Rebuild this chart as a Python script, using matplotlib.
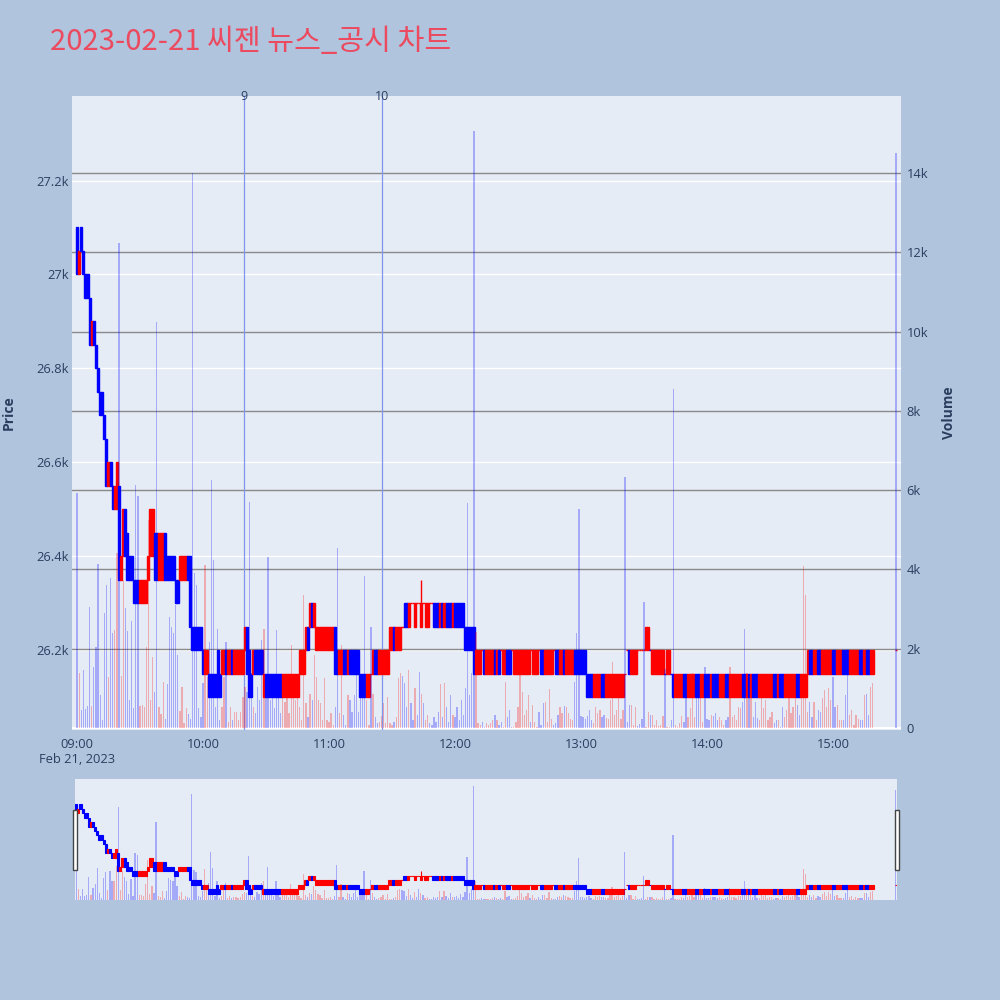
import matplotlib
matplotlib.use('Agg')
import matplotlib.pyplot as plt
import matplotlib.transforms as mtransforms
from matplotlib.patches import Rectangle

plt.rcParams['font.family'] = ['Open Sans', 'Noto Sans CJK KR', 'DejaVu Sans']

title = '2023-02-21 씨젠 뉴스_공시 차트'

# minutes after 09:00 (one candle per minute 09:00-15:19, then the 15:30 close)
minutes = list(range(0, 380)) + [390]

opens = [
    27100, 27000, 27100, 27050, 27000, 27000, 26950, 26850, 26900, 26850,
    26800, 26750, 26750, 26700, 26650, 26550, 26600, 26550, 26500, 26500,
    26550, 26350, 26400, 26500, 26450, 26400, 26400, 26350, 26350, 26350,
    26300, 26300, 26300, 26300, 26350, 26400, 26400, 26450, 26450, 26350,
    26350, 26350, 26450, 26400, 26400, 26400, 26400, 26350, 26350, 26350,
    26350, 26350, 26350, 26400, 26400, 26250, 26250, 26250, 26250, 26250,
    26200, 26150, 26150, 26150, 26150, 26150, 26150, 26200, 26150, 26150,
    26150, 26200, 26150, 26150, 26200, 26150, 26150, 26150, 26150, 26150,
    26200, 26250, 26200, 26150, 26150, 26200, 26200, 26200, 26200, 26100,
    26150, 26150, 26150, 26150, 26150, 26150, 26150, 26150, 26100, 26100,
    26100, 26100, 26100, 26100, 26100, 26100, 26150, 26150, 26150, 26200,
    26250, 26250, 26300, 26250, 26200, 26200, 26200, 26200, 26200, 26200,
    26200, 26200, 26200, 26250, 26200, 26150, 26150, 26200, 26200, 26150,
    26200, 26200, 26200, 26200, 26200, 26150, 26150, 26150, 26100, 26100,
    26150, 26150, 26200, 26200, 26150, 26150, 26150, 26150, 26150, 26200,
    26200, 26250, 26200, 26200, 26200, 26250, 26300, 26300, 26250, 26300,
    26300, 26250, 26300, 26300, 26250, 26300, 26250, 26250, 26300, 26300,
    26300, 26300, 26300, 26250, 26300, 26250, 26300, 26300, 26300, 26250,
    26300, 26300, 26300, 26300, 26300, 26250, 26250, 26250, 26250, 26250,
    26150, 26150, 26150, 26200, 26200, 26150, 26150, 26150, 26150, 26200,
    26150, 26200, 26200, 26150, 26150, 26200, 26200, 26200, 26150, 26150,
    26150, 26150, 26150, 26150, 26150, 26150, 26200, 26150, 26150, 26150,
    26200, 26200, 26200, 26150, 26150, 26150, 26150, 26200, 26200, 26200,
    26150, 26150, 26200, 26150, 26150, 26150, 26150, 26200, 26200, 26200,
    26200, 26200, 26200, 26150, 26150, 26150, 26100, 26100, 26100, 26100,
    26150, 26150, 26100, 26100, 26100, 26100, 26100, 26100, 26100, 26100,
    26100, 26150, 26200, 26200, 26150, 26150, 26150, 26200, 26200, 26200,
    26200, 26200, 26200, 26200, 26150, 26150, 26150, 26150, 26150, 26150,
    26150, 26150, 26150, 26150, 26150, 26100, 26100, 26100, 26100, 26150,
    26150, 26100, 26100, 26100, 26100, 26150, 26150, 26100, 26100, 26150,
    26150, 26150, 26100, 26150, 26150, 26150, 26100, 26100, 26100, 26150,
    26150, 26100, 26100, 26100, 26100, 26100, 26100, 26150, 26150, 26100,
    26150, 26100, 26150, 26150, 26150, 26100, 26100, 26100, 26100, 26100,
    26100, 26100, 26150, 26150, 26100, 26150, 26150, 26100, 26100, 26100,
    26100, 26100, 26100, 26150, 26150, 26100, 26100, 26100, 26150, 26200,
    26200, 26150, 26150, 26200, 26200, 26150, 26150, 26150, 26150, 26150,
    26200, 26200, 26150, 26150, 26150, 26200, 26200, 26200, 26150, 26150,
    26150, 26150, 26150, 26200, 26200, 26150, 26200, 26200, 26150, 26150,
    26200,
]

closes = [
    27000, 27050, 27050, 27000, 26950, 26950, 26850, 26900, 26850, 26800,
    26750, 26700, 26700, 26650, 26550, 26600, 26550, 26500, 26550, 26600,
    26350, 26400, 26500, 26400, 26350, 26350, 26350, 26300, 26300, 26300,
    26350, 26350, 26350, 26350, 26400, 26500, 26500, 26350, 26350, 26450,
    26450, 26450, 26350, 26350, 26350, 26350, 26350, 26300, 26300, 26400,
    26400, 26400, 26400, 26350, 26250, 26200, 26200, 26200, 26200, 26200,
    26150, 26200, 26200, 26100, 26100, 26100, 26100, 26100, 26100, 26200,
    26200, 26150, 26200, 26200, 26150, 26200, 26200, 26200, 26200, 26200,
    26250, 26150, 26100, 26100, 26200, 26150, 26150, 26150, 26150, 26150,
    26100, 26100, 26100, 26100, 26100, 26100, 26100, 26100, 26150, 26150,
    26150, 26150, 26150, 26150, 26150, 26150, 26200, 26200, 26200, 26250,
    26200, 26300, 26250, 26300, 26250, 26250, 26250, 26250, 26250, 26250,
    26250, 26250, 26250, 26150, 26150, 26200, 26200, 26150, 26150, 26200,
    26150, 26150, 26150, 26150, 26150, 26100, 26100, 26100, 26150, 26150,
    26150, 26200, 26150, 26150, 26200, 26200, 26200, 26200, 26200, 26250,
    26250, 26200, 26250, 26250, 26250, 26250, 26250, 26250, 26300, 26300,
    26300, 26300, 26300, 26300, 26300, 26300, 26300, 26300, 26300, 26300,
    26250, 26250, 26250, 26300, 26250, 26300, 26250, 26250, 26250, 26300,
    26250, 26250, 26250, 26250, 26250, 26200, 26200, 26200, 26200, 26150,
    26200, 26200, 26200, 26200, 26150, 26200, 26200, 26200, 26200, 26150,
    26200, 26150, 26200, 26200, 26200, 26150, 26150, 26200, 26200, 26200,
    26200, 26200, 26200, 26200, 26200, 26200, 26200, 26200, 26200, 26200,
    26200, 26150, 26150, 26200, 26200, 26200, 26200, 26200, 26150, 26150,
    26200, 26200, 26150, 26200, 26200, 26200, 26200, 26150, 26150, 26150,
    26150, 26150, 26150, 26100, 26100, 26100, 26150, 26150, 26150, 26150,
    26100, 26100, 26150, 26150, 26150, 26150, 26150, 26150, 26150, 26150,
    26150, 26150, 26200, 26150, 26200, 26200, 26200, 26200, 26200, 26200,
    26200, 26250, 26250, 26200, 26200, 26200, 26200, 26200, 26200, 26200,
    26150, 26200, 26200, 26150, 26100, 26150, 26150, 26150, 26150, 26100,
    26100, 26150, 26150, 26150, 26150, 26100, 26100, 26150, 26150, 26100,
    26100, 26100, 26150, 26100, 26100, 26100, 26150, 26150, 26150, 26100,
    26100, 26150, 26150, 26150, 26150, 26150, 26150, 26100, 26100, 26150,
    26100, 26150, 26100, 26100, 26100, 26150, 26150, 26150, 26150, 26150,
    26150, 26150, 26100, 26100, 26150, 26100, 26100, 26150, 26150, 26150,
    26150, 26150, 26150, 26100, 26100, 26150, 26150, 26150, 26200, 26150,
    26150, 26200, 26200, 26150, 26150, 26200, 26200, 26200, 26200, 26200,
    26150, 26150, 26200, 26200, 26200, 26150, 26150, 26150, 26200, 26200,
    26200, 26200, 26200, 26150, 26150, 26200, 26150, 26150, 26200, 26200,
    26200,
]

volumes = [
    5930, 1390, 450, 1460, 470, 560, 3050, 560, 1550, 2040,
    4140, 830, 200, 2900, 3600, 1290, 3780, 2400, 2480, 4410,
    12230, 1310, 3740, 3020, 2450, 700, 2690, 500, 6130, 5850,
    560, 580, 540, 2040, 5240, 700, 1800, 900, 10240, 520,
    350, 1160, 230, 1120, 2800, 2550, 2400, 3100, 1840, 420,
    1040, 120, 500, 350, 230, 14000, 3900, 3600, 500, 290,
    1130, 4110, 1290, 2180, 6250, 4240, 540, 2500, 200, 540,
    1290, 2180, 160, 540, 200, 410, 410, 200, 410, 790,
    1040, 920, 5700, 1380, 540, 370, 1040, 700, 2220, 2510,
    870, 4320, 700, 790, 500, 2470, 750, 370, 870, 660,
    1040, 370, 2090, 1040, 700, 1130, 540, 200, 3350, 620,
    290, 870, 700, 1840, 1290, 700, 620, 200, 1250, 200,
    160, 370, 80, 540, 4540, 370, 2090, 330, 80, 830,
    710, 410, 830, 1460, 410, 750, 750, 3830, 710, 80,
    2560, 870, 290, 120, 160, 300, 620, 120, 790, 120,
    80, 160, 290, 1250, 1380, 1300, 1130, 540, 1460, 620,
    200, 1000, 330, 1420, 870, 620, 200, 330, 120, 80,
    290, 160, 410, 1100, 290, 1130, 540, 160, 830, 330,
    290, 540, 200, 710, 330, 1000, 5670, 830, 1380, 15060,
    2420, 120, 80, 160, 30, 120, 80, 120, 200, 330,
    200, 80, 150, 30, 1170, 290, 450, 30, 20, 160,
    540, 1420, 920, 330, 450, 830, 160, 580, 160, 20,
    410, 80, 620, 660, 160, 980, 240, 80, 120, 330,
    540, 370, 550, 540, 370, 240, 200, 1170, 2400, 5520,
    300, 290, 240, 300, 450, 200, 120, 540, 370, 450,
    290, 330, 250, 240, 710, 1660, 330, 450, 750, 240,
    450, 6330, 160, 580, 580, 80, 540, 50, 100, 240,
    3180, 20, 410, 330, 330, 80, 200, 50, 80, 300,
    1500, 30, 30, 200, 8550, 80, 30, 120, 300, 160,
    1290, 290, 500, 1380, 290, 1170, 1340, 790, 160, 1550,
    240, 200, 330, 300, 370, 200, 290, 200, 80, 200,
    290, 1550, 290, 330, 200, 540, 500, 660, 2500, 1380,
    790, 1000, 290, 660, 250, 200, 1040, 500, 710, 200,
    290, 410, 120, 200, 200, 30, 540, 290, 450, 750,
    370, 540, 920, 580, 330, 750, 4090, 3350, 410, 660,
    290, 660, 200, 450, 410, 750, 960, 540, 1000, 710,
    1290, 540, 580, 200, 200, 200, 830, 1340, 330, 450,
    80, 330, 240, 200, 200, 830, 870, 330, 1040, 1130,
    14500,
]

# candles whose high pokes out above the body
wick_minutes = [164]
wick_highs = [26350]

# news / disclosure markers
news_minutes = [79.5, 145.2]
news_labels = ['9', '10']

hour_ticks = [0, 60, 120, 180, 240, 300, 360]
hour_labels = ['09:00\nFeb 21, 2023', '10:00', '11:00', '12:00', '13:00', '14:00', '15:00']
price_ticks = [26200, 26400, 26600, 26800, 27000, 27200]
price_labels = ['26.2k', '26.4k', '26.6k', '26.8k', '27k', '27.2k']
vol_ticks = [0, 2000, 4000, 6000, 8000, 10000, 12000, 14000]
vol_labels = ['0', '2k', '4k', '6k', '8k', '10k', '12k', '14k']

UP = '#FF0000'
DOWN = '#0000FF'
TXT = '#2a3f5f'
PLOT_BG = '#E5ECF6'
PAPER_BG = '#B0C4DE'

# candle colour: up/down, flat candles follow the previous close
colors = []
prev = opens[0]
for o, c in zip(opens, closes):
    if c > o:
        colors.append(UP)
    elif c < o:
        colors.append(DOWN)
    else:
        colors.append(UP if c >= prev else DOWN)
    prev = c

# volume colour: red only when the close is above the open
vol_colors = [UP if c > o else DOWN for o, c in zip(opens, closes)]

highs = [max(o, c) for o, c in zip(opens, closes)]
lows = [min(o, c) for o, c in zip(opens, closes)]
for m, h in zip(wick_minutes, wick_highs):
    highs[minutes.index(m)] = h

PRICE_LIM = (26030, 27380)
VOL_LIM = (-50, 15943)


def draw_series(axp, axv, lw_body, lw_wick):
    bodies = [abs(c - o) for o, c in zip(opens, closes)]
    axp.vlines(minutes, lows, highs, colors=colors, linewidth=lw_wick, zorder=3)
    axp.bar(minutes, bodies, bottom=lows, width=1.0, color=colors,
            edgecolor=colors, linewidth=lw_body, zorder=3)
    axv.bar(minutes, volumes, width=0.6, color=vol_colors, alpha=0.28, linewidth=0)


fig = plt.figure(figsize=(10, 10), dpi=100)
fig.patch.set_facecolor(PAPER_BG)

# main chart
ax = fig.add_axes([0.072, 0.270, 0.829, 0.634])
ax.set_facecolor(PLOT_BG)
ax2 = ax.twinx()

ax.set_xlim(-2.4, 392.4)
ax.set_ylim(*PRICE_LIM)
ax2.set_ylim(*VOL_LIM)

# price grid (white) and volume grid (grey) below the marks
for p in price_ticks:
    ax.axhline(p, color='white', linewidth=1.0, zorder=0.5)
vol_tr = mtransforms.blended_transform_factory(ax.transAxes, ax2.transData)
for v in vol_ticks[1:]:
    ax.plot([0, 1], [v, v], transform=vol_tr, color='#8a8a8a', linewidth=1.0, zorder=0.6)
ax.plot([0, 1], [0, 0], transform=vol_tr, color='white', linewidth=1.5, zorder=0.6)

news_tr = mtransforms.blended_transform_factory(ax.transData, ax.transAxes)
for m, lab in zip(news_minutes, news_labels):
    ax.axvline(m, color='#8096ee', linewidth=0.9, zorder=1)
    ax.text(m, 1.0, lab, transform=news_tr, ha='center', va='center',
            fontsize=9, color=TXT, zorder=5, clip_on=False)

draw_series(ax, ax2, 1.0, 1.0)

ax.set_xticks(hour_ticks)
ax.set_xticklabels(hour_labels)
ax.set_yticks(price_ticks)
ax.set_yticklabels(price_labels)
ax2.set_yticks(vol_ticks)
ax2.set_yticklabels(vol_labels)
ax.tick_params(axis='x', length=0, pad=6, labelsize=9.3, labelcolor=TXT)
ax.tick_params(axis='y', length=0, pad=2, labelsize=9.3, labelcolor=TXT)
ax2.tick_params(axis='y', length=0, pad=4, labelsize=9.3, labelcolor=TXT)
ax.set_ylabel('Price', fontsize=10, fontweight='bold', color=TXT, labelpad=15)
ax2.set_ylabel('Volume', fontsize=10, fontweight='bold', color=TXT, labelpad=10)
for a in (ax, ax2):
    for s in a.spines.values():
        s.set_visible(False)

# range slider miniature
ax3 = fig.add_axes([0.075, 0.100, 0.822, 0.121])
ax3.set_facecolor(PLOT_BG)
ax4 = ax3.twinx()
draw_series(ax3, ax4, 0.8, 0.8)
ax3.set_xlim(-0.6, 390.6)
ax3.set_ylim(*PRICE_LIM)
ax4.set_ylim(*VOL_LIM)
for a in (ax3, ax4):
    a.set_xticks([])
    a.set_yticks([])
    for s in a.spines.values():
        s.set_visible(False)

for hx in (0.073, 0.895):
    fig.patches.append(Rectangle((hx, 0.130), 0.004, 0.060, transform=fig.transFigure,
                                 facecolor='white', edgecolor='#444444', linewidth=1.0))

fig.text(0.05, 0.958, title, fontsize=21, color='#EB4A5F', ha='left', va='center',
         family=['Noto Sans CJK KR', 'DejaVu Sans'])

fig.savefig('out.png', dpi=100, facecolor=fig.get_facecolor())
